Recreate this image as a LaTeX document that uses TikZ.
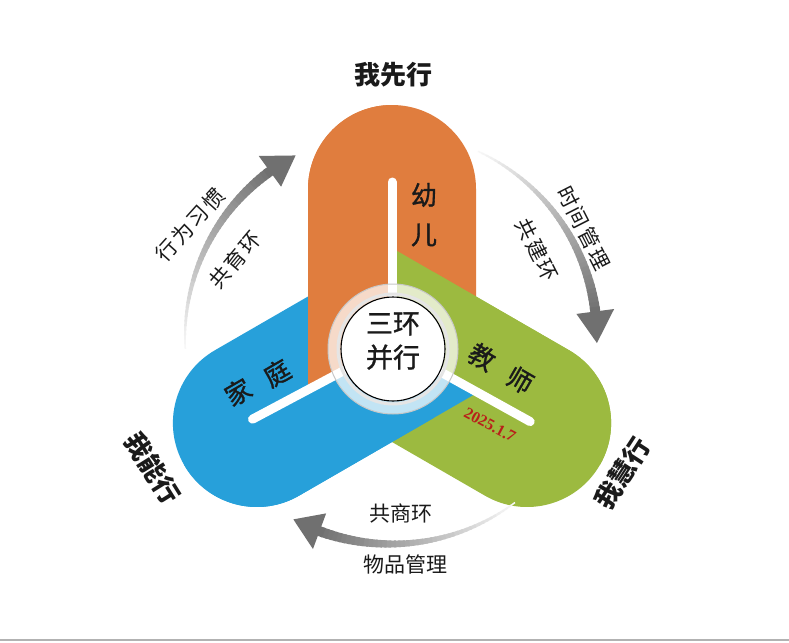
\documentclass[tikz,border=0pt]{standalone}
\usepackage{fontspec}
\newfontfamily\cjk{Noto Sans CJK SC}
\newfontfamily\cjkmed{Noto Sans CJK SC}[FakeBold=1.2]
\newfontfamily\datefont{Liberation Serif}
\usetikzlibrary{calc}
\definecolor{orng}{HTML}{E07D3E}
\definecolor{grn}{HTML}{9CBA40}
\definecolor{blu}{HTML}{27A0DA}
\definecolor{datered}{HTML}{B8201A}
\definecolor{txt}{HTML}{1A1A1A}
\newcommand\armpath[3]{($(#1)+(#2:-#3)+(#2+90:84)$) -- ($(#1)+(#2:156)+(#2+90:84)$) arc[start angle=#2+90, end angle=#2-90, radius=84] -- ($(#1)+(#2:-#3)+(#2-90:84)$) -- cycle}
\newcommand\gradarrow[3]{%
  \foreach \k in {0,...,44}{%
    \pgfmathsetmacro\angA{(#1)+((#2)-(#1))*\k/45}%
    \pgfmathsetmacro\angB{(#1)+((#2)-(#1))*(\k+1.4)/45}%
    \pgfmathtruncatemacro\shd{3+53*\k/44}%
    \pgfmathsetmacro\lwd{1.5+8.5*\k/44}%
    \draw[line width=\lwd pt, draw=black!\shd] ($(ac)+(\angA:206)$) -- ($(ac)+(\angB:206)$);
  }%
  \fill[black!56] ($(ac)+(#2:187)$) -- ($(ac)+(#3:206)$) -- ($(ac)+(#2:225)$) -- cycle;
}
\tikzset{
  wline/.style={white, line width=9pt, line cap=round},
  armtxt/.style={font=\cjkmed\fontsize{26}{26}\selectfont, text=txt, inner sep=0pt},
  bigtxt/.style={font=\cjk\bfseries\fontsize{26}{26}\selectfont, text=txt, inner sep=0pt},
  sidetxt/.style={font=\cjk\addfontfeatures{LetterSpace=10}\fontsize{21}{21}\selectfont, text=txt, inner sep=0pt},
  bottxt/.style={font=\cjk\fontsize{21}{21}\selectfont, text=txt, inner sep=0pt},
}
\begin{document}
\begin{tikzpicture}[x=1pt,y=-1pt]
\useasboundingbox (0,0) rectangle (789,642);
\fill[white] (0,0) rectangle (789,642);
\coordinate (c) at (392,345);
\coordinate (ac) at (391,338);
\coordinate (oc) at (393,349);
% base arms
\fill[orng] \armpath{c}{-90}{0};
\fill[grn] \armpath{c}{30}{0};
\fill[blu] \armpath{c}{150}{0};
% weave: top arm in each sector
\begin{scope}
  \clip (c) -- ($(c)+(-90:600)$) -- ($(c)+(30:600)$) -- cycle;
  \fill[grn] \armpath{c}{30}{70};
\end{scope}
\begin{scope}
  \clip (c) -- ($(c)+(150:600)$) -- ($(c)+(-90:600)$) -- cycle;
  \fill[orng] \armpath{c}{-90}{70};
\end{scope}
\begin{scope}
  \clip (c) -- ($(c)+(30:600)$) -- ($(c)+(150:600)$) -- cycle;
  \fill[blu] \armpath{c}{150}{70};
\end{scope}
% white lines
\coordinate (wo) at ($(c)+(-90:163)$);
\coordinate (wg) at ($(c)+(29:158)$);
\coordinate (wb) at ($(c)+(152:158)$);
\draw[wline] (c) -- (wo);
\draw[wline] (c) -- (wg);
\draw[wline] (c) -- (wb);
% centre ring
\fill[white, opacity=0.72] (oc) circle[radius=65];
\draw[black!22, line width=1pt] (oc) circle[radius=65];
\draw[black!10, line width=3pt] (oc) circle[radius=55];
\fill[white] (oc) circle[radius=52];
\draw[black, line width=1.1pt] (oc) circle[radius=52];
\node[font=\cjkmed\fontsize{27}{34}\selectfont, align=center, text=txt, inner sep=0pt] (ctr) at (393,341) {三环\\并行};
% arm texts
\node[armtxt] (you) at (424,195) {幼};
\node[armtxt] (er) at (424,235) {儿};
\node[armtxt, rotate=-30] (jiao) at (482,357) {教};
\node[armtxt, rotate=-30] (shi) at (520,380) {师};
\node[armtxt, rotate=30] (jia) at (238,392) {家};
\node[armtxt, rotate=30] (ting) at (277,373) {庭};
\node[font=\datefont\bfseries\fontsize{16}{16}\selectfont, text=datered, rotate=-28, inner sep=0pt] (date) at (490,425) {2025.1.7};
% outer labels
\node[bigtxt] (xian) at (393,75) {我先行};
\node[bigtxt, rotate=-58] (neng) at (153,468) {我能行};
\node[bigtxt, rotate=57] (hui) at (622,473) {我慧行};
% arrows
\gradarrow{-65}{-7.4}{1.4}
\gradarrow{177}{234}{242.4}
\gradarrow{53}{110.3}{118.3}
% arrow labels
\node[sidetxt, rotate=48] (xwxg) at (190,225) {行为习惯};
\node[sidetxt, rotate=50] (gyh) at (235,260) {共育环};
\node[sidetxt, rotate=-63] (sjgl) at (584,228) {时间管理};
\node[sidetxt, rotate=-63] (gjh) at (537,250) {共建环};
\node[bottxt] (gsh) at (401,513) {共商环};
\node[bottxt] (wpgl) at (405,564) {物品管理};
% bottom rule
\draw[black!30, line width=1.5pt] (0,640) -- (789,640);
\end{tikzpicture}
\end{document}
